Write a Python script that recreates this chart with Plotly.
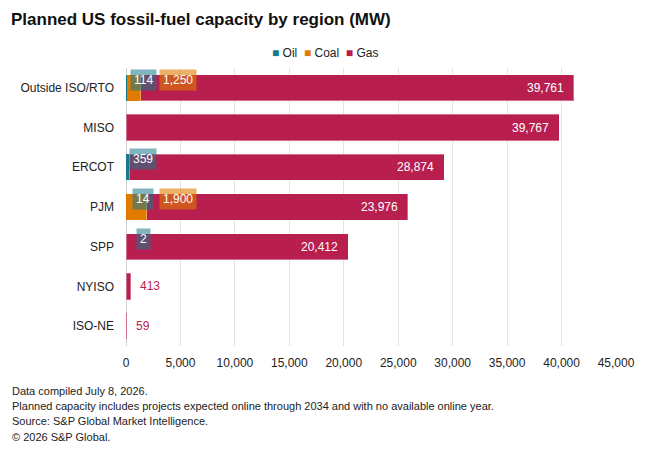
import plotly.graph_objects as go

regions = ["Outside ISO/RTO", "MISO", "ERCOT", "PJM", "SPP", "NYISO", "ISO-NE"]
oil = [114, 0, 359, 14, 2, 0, 0]
coal = [1250, 0, 0, 1900, 0, 0, 0]
gas = [39761, 39767, 28874, 23976, 20412, 413, 59]
x_ticks = [0, 5000, 10000, 15000, 20000, 25000, 30000, 35000, 40000, 45000]

OIL = "#17798c"
COAL = "#e07b00"
GAS = "#b81f4f"
FONT = "Liberation Sans"

W, H = 660, 452
L, R, T, B = 126, 44, 68, 106
PH = H - T - B


def py(ypx):
    return (H - B - ypx) / PH


def px(xpx):
    return (xpx - L) / (W - L - R)


fig = go.Figure()
fig.add_bar(y=regions, x=oil, name="Oil", orientation="h", marker_color=OIL,
            marker_line_width=0)
fig.add_bar(y=regions, x=coal, name="Coal", orientation="h", marker_color=COAL,
            marker_line_width=0)
fig.add_bar(y=regions, x=gas, name="Gas", orientation="h", marker_color=GAS,
            marker_line_width=1, marker_line_color="rgba(255,255,255,0.35)")

# gas value labels
for r, o, c, g in zip(regions, oil, coal, gas):
    total = o + c + g
    if g > 5000:
        fig.add_annotation(x=total, y=r, xref="x", yref="y", text=f"{g:,}",
                           showarrow=False, xanchor="right", xshift=-8,
                           font=dict(color="white", size=12, family=FONT))
    else:
        fig.add_annotation(x=total, y=r, xref="x", yref="y", text=f"{g:,}",
                           showarrow=False, xanchor="left", xshift=7,
                           font=dict(color=GAS, size=12, family=FONT))

# small-value labels for oil and coal (boxed, above bar)
for r, v in zip(regions, oil):
    if v > 0:
        fig.add_annotation(x=0, y=r, xref="x", yref="y", text=f"{v:,}",
                           showarrow=False, xanchor="center", xshift=17, yshift=8,
                           font=dict(color="white", size=12, family=FONT),
                           bgcolor="rgba(23,121,140,0.55)", borderpad=3)
for r, v in zip(regions, coal):
    if v > 0:
        fig.add_annotation(x=0, y=r, xref="x", yref="y", text=f"{v:,}",
                           showarrow=False, xanchor="center", xshift=52, yshift=8,
                           font=dict(color="white", size=12, family=FONT),
                           bgcolor="rgba(224,123,0,0.6)", borderpad=3)

# legend drawn as text
legend_txt = (f"<span style='color:{OIL}'>■</span> Oil  "
              f"<span style='color:{COAL}'>■</span> Coal  "
              f"<span style='color:{GAS}'>■</span> Gas")
fig.add_annotation(text=legend_txt, xref="paper", yref="paper",
                   x=px(325), y=py(53), xanchor="center", yanchor="middle",
                   showarrow=False, font=dict(size=12, color="#222", family=FONT))

fig.update_layout(
    barmode="stack", bargap=0.34,
    width=W, height=H,
    margin=dict(l=L, r=R, t=T, b=B),
    paper_bgcolor="white", plot_bgcolor="white",
    font=dict(family=FONT, size=12, color="#222"),
    title=dict(text="<b>Planned US fossil-fuel capacity by region (MW)</b>",
               x=11 / W, xanchor="left", y=1 - 19 / H, yanchor="middle",
               font=dict(size=17, color="#111", family=FONT)),
    showlegend=False,
    xaxis=dict(range=[0, 45000], tickvals=x_ticks, tickformat=",",
               showgrid=True, gridcolor="#e3e3e3", zeroline=True,
               zerolinecolor="#cfcfcf", zerolinewidth=1,
               ticks="", tickfont=dict(size=12), ticklabelstandoff=8),
    yaxis=dict(autorange="reversed", ticks="", ticklabelstandoff=11,
               tickfont=dict(size=12), showgrid=False),
)

notes = ["Data compiled July 8, 2026.",
         "Planned capacity includes projects expected online through 2034 and with no available online year.",
         "Source: S&P Global Market Intelligence.",
         "© 2026 S&P Global."]
note_y = [391, 405.5, 421, 437]
for line, yy in zip(notes, note_y):
    fig.add_annotation(text=line, xref="paper", yref="paper",
                       x=px(10), y=py(yy), xanchor="left", yanchor="middle",
                       align="left", showarrow=False,
                       font=dict(size=11, color="#222", family=FONT))

fig.write_html("out.html")
